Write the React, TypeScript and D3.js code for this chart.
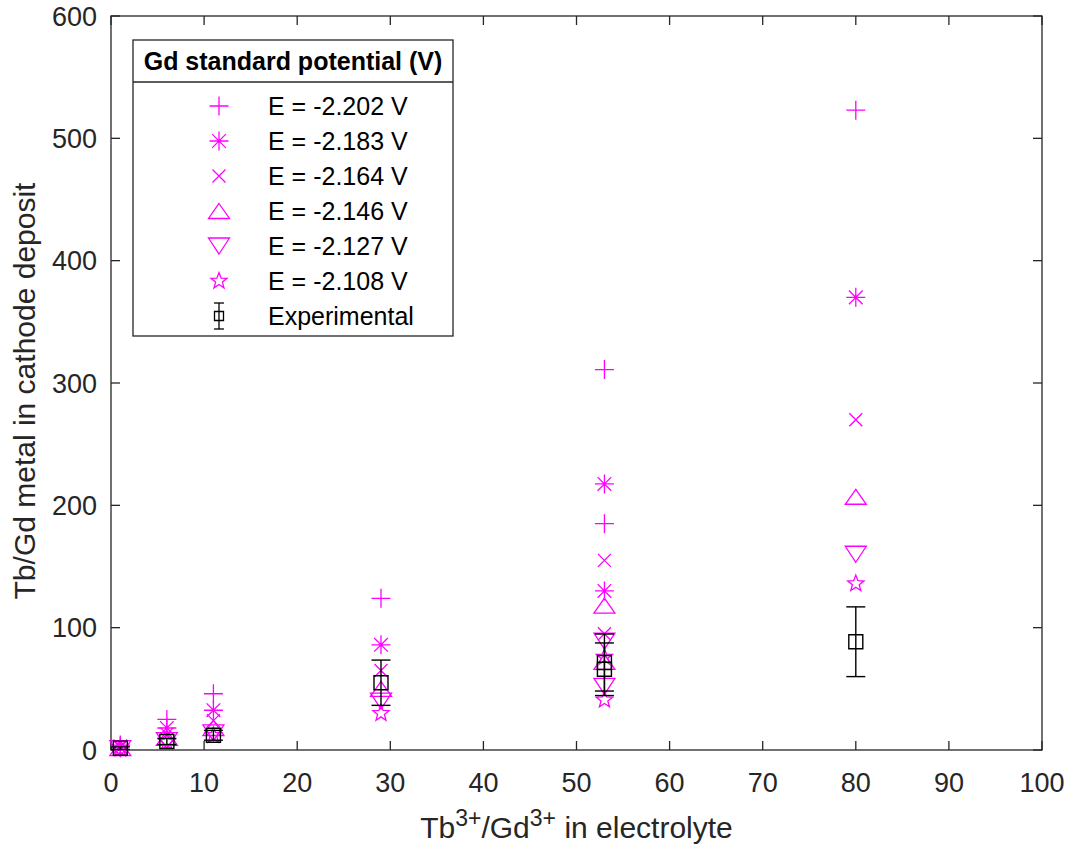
import React from 'react';
import * as d3 from 'd3';

// ---- data ----
const X = [1, 6, 11, 29, 53, 53, 80];
const plusVals = [4, 25, 46, 124, 311, 185, 523];
const asteriskVals = [3, 18, 32.5, 86, 217.5, 130, 370];
const crossVals = [2, 13, 24, 65, 155, 95, 270];
const triUpVals = [1.6, 10, 18, 50, 118, 72, 207];
const triDownVals = [1.2, 7.6, 14, 40, 89, 52, 160];
const starVals = [1, 6.5, 12, 30, 76, 41, 136];
const expVals = [1.5, 7, 12, 55, 71.5, 66, 88.5];
const expErr = [1, 2.5, 4, 18.5, 23.3, 21.5, 28.5];
const legendLabels = [
  'E = -2.202 V',
  'E = -2.183 V',
  'E = -2.164 V',
  'E = -2.146 V',
  'E = -2.127 V',
  'E = -2.108 V',
  'Experimental',
];
const legendTitle = 'Gd standard potential (V)';
const xTicks = [0, 10, 20, 30, 40, 50, 60, 70, 80, 90, 100];
const yTicks = [0, 100, 200, 300, 400, 500, 600];

// ---- marker shapes ----
const plusPath = (s: number) => `M${-s},0H${s}M0,${-s}V${s}`;
const crossPath = (s: number) => `M${-s},${-s}L${s},${s}M${-s},${s}L${s},${-s}`;
const asteriskPath = (s: number) => plusPath(s) + crossPath(s * 0.72);
const triUpPath = () => `M0,-7.5L10.5,7.5L-10.5,7.5Z`;
const triDownPath = () => `M0,8L10.5,-8L-10.5,-8Z`;
const starPath = (R: number) => {
  const r = R * 0.42;
  const pts = d3.range(10).map((i) => {
    const a = -Math.PI / 2 + (i * Math.PI) / 5;
    const rr = i % 2 === 0 ? R : r;
    return [rr * Math.cos(a), rr * Math.sin(a)];
  });
  return 'M' + pts.map((p) => p[0].toFixed(2) + ',' + p[1].toFixed(2)).join('L') + 'Z';
};
const squarePath = (s: number) => `M${-s},${-s}H${s}V${s}H${-s}Z`;

const MAG = '#FF00FF';
const AX = '#262626';
const FONT = '"Liberation Sans", Arial, Helvetica, sans-serif';

const series = [
  { vals: plusVals, d: plusPath(9.5) },
  { vals: asteriskVals, d: asteriskPath(9.5) },
  { vals: crossVals, d: crossPath(6.5) },
  { vals: triUpVals, d: triUpPath() },
  { vals: triDownVals, d: triDownPath() },
  { vals: starVals, d: starPath(8.5) },
];

export default function App() {
  const W = 1073;
  const H = 852;
  const left = 111, right = 1042, top = 16, bottom = 750;
  const x = d3.scaleLinear().domain([0, 100]).range([left, right]);
  const y = d3.scaleLinear().domain([0, 600]).range([bottom, top]);
  const tl = 9;

  const legX = 133, legY = 40, legW = 320, legH = 296;
  const rowY = [106, 141, 176, 211, 246, 281, 316];
  const symX = 219;
  const txtX = 268;

  return (
    <svg
      width={W}
      height={H}
      style={{ position: 'absolute', left: 0, top: 0, display: 'block', background: '#fff' }}
      fontFamily={FONT}
    >
      <rect x={0} y={0} width={W} height={H} fill="#fff" />
      {/* axes box */}
      <rect x={left} y={top} width={right - left} height={bottom - top} fill="#fff" stroke={AX} strokeWidth={1.3} />
      {/* ticks */}
      {xTicks.map((t) => (
        <g key={'xt' + t}>
          <line x1={x(t)} x2={x(t)} y1={bottom} y2={bottom - tl} stroke={AX} strokeWidth={1.3} />
          <line x1={x(t)} x2={x(t)} y1={top} y2={top + tl} stroke={AX} strokeWidth={1.3} />
          <text x={x(t)} y={792} textAnchor="middle" fontSize={27} fill={AX}>
            {t}
          </text>
        </g>
      ))}
      {yTicks.map((t) => (
        <g key={'yt' + t}>
          <line x1={left} x2={left + tl} y1={y(t)} y2={y(t)} stroke={AX} strokeWidth={1.3} />
          <line x1={right} x2={right - tl} y1={y(t)} y2={y(t)} stroke={AX} strokeWidth={1.3} />
          <text x={97} y={y(t)} dy="0.36em" textAnchor="end" fontSize={27} fill={AX}>
            {t}
          </text>
        </g>
      ))}
      {/* axis labels */}
      <text x={(left + right) / 2} y={838} textAnchor="middle" fontSize={30} fill={AX}>
        <tspan>Tb</tspan>
        <tspan dy={-12} fontSize={23}>3+</tspan>
        <tspan dy={12}>/Gd</tspan>
        <tspan dy={-12} fontSize={23}>3+</tspan>
        <tspan dy={12}> in electrolyte</tspan>
      </text>
      <text
        transform={`translate(35,${(top + bottom) / 2 + 8}) rotate(-90)`}
        textAnchor="middle"
        fontSize={30}
        fill={AX}
      >
        Tb/Gd metal in cathode deposit
      </text>

      {/* model series */}
      {series.map((s, si) => (
        <g key={'s' + si}>
          {X.map((xv, i) => (
            <path
              key={i}
              d={s.d}
              transform={`translate(${x(xv)},${y(s.vals[i])})`}
              fill="none"
              stroke={MAG}
              strokeWidth={1.3}
            />
          ))}
        </g>
      ))}

      {/* experimental with error bars */}
      <g>
        {X.map((xv, i) => {
          const cx = x(xv);
          const y1 = y(expVals[i] + expErr[i]);
          const y0 = y(expVals[i] - expErr[i]);
          return (
            <g key={'e' + i} stroke="#000" strokeWidth={1.4} fill="none">
              <line x1={cx} x2={cx} y1={y1} y2={y0} />
              <line x1={cx - 9.5} x2={cx + 9.5} y1={y1} y2={y1} />
              <line x1={cx - 9.5} x2={cx + 9.5} y1={y0} y2={y0} />
              <path d={squarePath(7)} transform={`translate(${cx},${y(expVals[i])})`} />
            </g>
          );
        })}
      </g>

      {/* legend */}
      <g>
        <rect x={legX} y={legY} width={legW} height={legH} fill="#fff" stroke={AX} strokeWidth={1.3} />
        <line x1={legX} x2={legX + legW} y1={82} y2={82} stroke={AX} strokeWidth={1.3} />
        <text x={legX + legW / 2} y={61} dy="0.36em" textAnchor="middle" fontSize={25} fontWeight="bold" fill="#000">
          {legendTitle}
        </text>
        {legendLabels.map((lab, i) => (
          <g key={'l' + i}>
            {i < series.length ? (
              <path d={series[i].d} transform={`translate(${symX},${rowY[i]})`} fill="none" stroke={MAG} strokeWidth={1.3} />
            ) : (
              <g stroke="#000" strokeWidth={1.3} fill="none">
                <line x1={symX} x2={symX} y1={rowY[i] - 13} y2={rowY[i] + 13} />
                <line x1={symX - 5} x2={symX + 5} y1={rowY[i] - 13} y2={rowY[i] - 13} />
                <line x1={symX - 5} x2={symX + 5} y1={rowY[i] + 13} y2={rowY[i] + 13} />
                <path d={squarePath(4.5)} transform={`translate(${symX},${rowY[i]})`} />
              </g>
            )}
            <text x={txtX} y={rowY[i]} dy="0.36em" fontSize={25} fill="#000">
              {lab}
            </text>
          </g>
        ))}
      </g>
    </svg>
  );
}
